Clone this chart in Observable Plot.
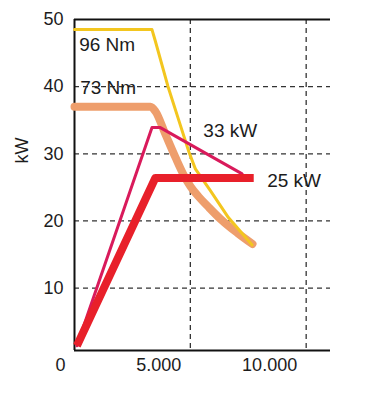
<!DOCTYPE html>
<html>
<head>
<meta charset="utf-8">
<script src="https://cdn.jsdelivr.net/npm/d3@7"></script>
<script src="https://cdn.jsdelivr.net/npm/@observablehq/plot@0.6"></script>
<style>
  html, body { margin: 0; padding: 0; background: #fff; }
  #chart svg { display: block; }
</style>
</head>
<body>
<div id="chart"></div>
<script>
// Curves (x: rpm, y: kW)
const rpmYellow = [0, 3345, 3488, 4028, 4482, 4936, 5217, 5865, 6643, 7667];
const kwYellow  = [48.5, 48.5, 46.8, 40.1, 35.2, 30.3, 27.75, 24.5, 20.5, 16.4];

const rpmOrange = [0, 3280, 3496, 3928, 4359, 4704, 5007, 5352, 5783, 6301, 7035, 7682];
const kwOrange  = [37.0, 37.0, 36.3, 32.87, 29.45, 26.91, 25.13, 23.64, 22.07, 20.29, 18.2, 16.56];

const rpmMagenta = [104, 3345, 3704, 7235];
const kwMagenta  = [1.4, 33.9, 33.9, 27.0];

const rpmRed = [104, 3488, 7736];
const kwRed  = [1.4, 26.4, 26.4];

// Axis ticks
const xTicks = [0, 5000, 10000];
const xTickLabels = ["0", "5.000", "10.000"];
const yTicks = [10, 20, 30, 40, 50];
const yGrid = [10, 20, 30, 40];
const xGrid = [5000, 10000];

// Annotations
const annText = ["96 Nm", "73 Nm", "33 kW", "25 kW"];
const annRpm  = [203, 246, 5562, 8315];
const annKw   = [46.15, 39.8, 33.4, 26.0];

const yMin = 0.7, yMax = 50, xMax = 11050;

const zip = (xs, ys) => xs.map((x, i) => ({x, y: ys[i]}));
const font = "'Liberation Sans', Arial, Helvetica, sans-serif";
const ink = "#1c1c1c";

const chart = Plot.plot({
  width: 369,
  height: 396,
  marginLeft: 74,
  marginRight: 39,
  marginTop: 19,
  marginBottom: 46,
  x: {domain: [0, xMax], axis: null},
  y: {domain: [yMin, yMax], axis: null},
  style: {fontFamily: font, background: "#fff", color: ink},
  marks: [
    // dashed grid
    Plot.ruleY(yGrid, {stroke: "#333", strokeWidth: 1.3, strokeDasharray: "5,4"}),
    Plot.ruleX(xGrid, {stroke: "#333", strokeWidth: 1.3, strokeDasharray: "5,4"}),
    // frame lines
    Plot.ruleY([yMin, yMax], {stroke: "#111", strokeWidth: 2}),
    Plot.ruleX([0], {stroke: "#111", strokeWidth: 2}),
    // curves
    Plot.line(zip(rpmOrange, kwOrange), {x: "x", y: "y", stroke: "#ee9e6c", strokeWidth: 8, strokeLinejoin: "round", strokeLinecap: "round", curve: "monotone-x"}),
    Plot.line(zip(rpmYellow, kwYellow), {x: "x", y: "y", stroke: "#f3c61f", strokeWidth: 3, strokeLinejoin: "round", strokeLinecap: "round"}),
    Plot.line(zip(rpmMagenta, kwMagenta), {x: "x", y: "y", stroke: "#d91a5b", strokeWidth: 3, strokeLinejoin: "round"}),
    Plot.line(zip(rpmRed, kwRed), {x: "x", y: "y", stroke: "#e8202a", strokeWidth: 8, strokeLinejoin: "round", strokeLinecap: "butt"}),
    // y tick labels
    Plot.text(yTicks, {x: () => 0, y: d => d, text: d => String(d), textAnchor: "end", dx: -11, fontSize: 18, fill: ink}),
    // x tick labels
    Plot.text(xTicks, {x: d => d, y: () => yMin, text: (d, i) => xTickLabels[i], textAnchor: "end", dx: -9, dy: 14.5, fontSize: 18, fill: ink}),
    // y axis title
    Plot.text(["kW"], {frameAnchor: "left", text: d => d, rotate: -90, dx: -52, dy: -21.5, fontSize: 18, fill: ink}),
    // annotations
    Plot.text(annText, {x: (d, i) => annRpm[i], y: (d, i) => annKw[i], text: d => d, textAnchor: "start", fontSize: 19, fill: ink})
  ]
});
document.getElementById("chart").appendChild(chart);
</script>
</body>
</html>
